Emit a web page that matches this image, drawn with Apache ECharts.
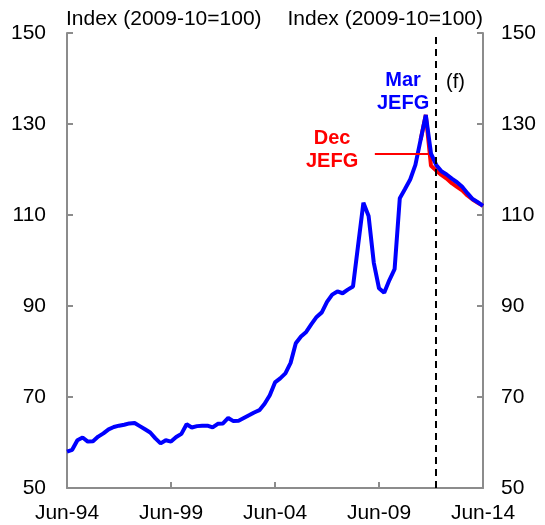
<!DOCTYPE html>
<html>
<head>
<meta charset="utf-8">
<script src="https://cdn.jsdelivr.net/npm/echarts@6/dist/echarts.min.js"></script>
<style>
  html, body { margin: 0; padding: 0; background: #fff; }
</style>
</head>
<body>
<div id="myChart" style="width:545px;height:525px;"></div>
<script>
// quarters counted from Jun-94 (0) to Jun-14 (80)
var tickQuarters = [0, 20, 40, 60, 80];
var tickLabels = ['Jun-94', 'Jun-99', 'Jun-04', 'Jun-09', 'Jun-14'];
var forecastStart = 71; // Mar-12

// Mar JEFG, one value per quarter from Jun-94
var marJefg = [
  58.0, 58.4, 60.5, 61.1, 60.2, 60.3, 61.3, 62.0, 62.9, 63.4,
  63.7, 63.9, 64.2, 64.3, 63.6, 62.9, 62.2, 60.9, 59.8, 60.5,
  60.2, 61.2, 61.9, 64.0, 63.3, 63.6, 63.7, 63.7, 63.3, 64.1,
  64.2, 65.4, 64.7, 64.8, 65.4, 66.0, 66.6, 67.1, 68.5, 70.4,
  73.2, 74.1, 75.2, 77.5, 81.8, 83.3, 84.3, 86.0, 87.6, 88.6,
  90.9, 92.5, 93.2, 92.8, 93.6, 94.3, 103.5, 112.7, 109.8, 99.5,
  93.9, 92.9, 95.7, 98.1, 113.7, 115.7, 117.8, 121.0, 126.5, 132.0,
  123.5, 121.0, 119.6, 118.9, 118.0, 117.2, 116.2, 114.8, 113.5, 112.8,
  112.0
];

// Dec JEFG, starts at quarter 68
var decStart = 68;
var decJefg = [126.5, 132.0, 120.8, 119.8, 118.8, 118.0, 117.0, 116.2, 115.4, 114.3, 113.4, 112.7, 112.0];

// leader line for the Dec label
var decLeader = [[59.2, 123.4], [69.5, 123.4]];

var marData = [];
for (var i = 0; i < marJefg.length; i++) {
  marData.push([i, marJefg[i]]);
}
var decData = [];
for (var j = 0; j < decJefg.length; j++) {
  decData.push([decStart + j, decJefg[j]]);
}

var font = "'Liberation Sans', Arial, sans-serif";
var axisGrey = '#8c8c8c';

function yAxisDef(pos, margin) {
  return {
    type: 'value',
    position: pos,
    min: 50,
    max: 150,
    interval: 20,
    axisLine: { show: true, lineStyle: { color: axisGrey, width: 2 } },
    axisTick: { show: true, inside: true, length: 6, lineStyle: { color: axisGrey, width: 2 } },
    axisLabel: { color: '#000', fontSize: 21, fontFamily: font, margin: margin },
    splitLine: { show: false }
  };
}

var chart = echarts.init(document.getElementById('myChart'));
chart.setOption({
  animation: false,
  grid: { left: 67, right: 62, top: 33, bottom: 37, containLabel: false },
  xAxis: {
    type: 'value',
    min: 0,
    max: 80,
    interval: 20,
    axisLine: { show: true, lineStyle: { color: axisGrey, width: 2 } },
    axisTick: { show: true, inside: true, length: 6, lineStyle: { color: axisGrey, width: 2 } },
    axisLabel: {
      color: '#000', fontSize: 21, fontFamily: font, margin: 15,
      formatter: function (v) {
        var k = tickQuarters.indexOf(v);
        return k >= 0 ? tickLabels[k] : '';
      }
    },
    splitLine: { show: false }
  },
  yAxis: [yAxisDef('left', 21), yAxisDef('right', 18)],
  graphic: [
    { type: 'text', left: 66, top: 9, style: { text: 'Index (2009-10=100)', fontSize: 21, fontFamily: font, fill: '#000' } },
    { type: 'text', right: 62, top: 9, style: { text: 'Index (2009-10=100)', fontSize: 21, fontFamily: font, fill: '#000', textAlign: 'right' } },
    { type: 'text', left: 377, top: 69, style: { text: 'Mar\nJEFG', fontSize: 20, fontWeight: 'bold', fontFamily: font, fill: '#0000ff', textAlign: 'center', lineHeight: 23 } },
    { type: 'text', left: 306, top: 127, style: { text: 'Dec\nJEFG', fontSize: 20, fontWeight: 'bold', fontFamily: font, fill: '#ff0000', textAlign: 'center', lineHeight: 23 } },
    { type: 'text', left: 446, top: 72, style: { text: '(f)', fontSize: 20, fontFamily: font, fill: '#000' } }
  ],
  series: [
    {
      name: 'Dec JEFG',
      type: 'line',
      data: decData,
      showSymbol: false,
      lineStyle: { color: '#ff0000', width: 4 },
      z: 2,
      markLine: {
        silent: true,
        symbol: 'none',
        label: { show: false },
        lineStyle: { color: '#ff0000', width: 2, type: 'solid' },
        data: [[{ coord: decLeader[0] }, { coord: decLeader[1] }]]
      }
    },
    {
      name: 'Mar JEFG',
      type: 'line',
      data: marData,
      showSymbol: false,
      lineStyle: { color: '#0000ff', width: 4 },
      z: 3,
      markLine: {
        silent: true,
        symbol: 'none',
        label: { show: false },
        lineStyle: { color: '#000', width: 2, type: [7, 5] },
        data: [{ xAxis: forecastStart }]
      }
    }
  ]
});
</script>
</body>
</html>
